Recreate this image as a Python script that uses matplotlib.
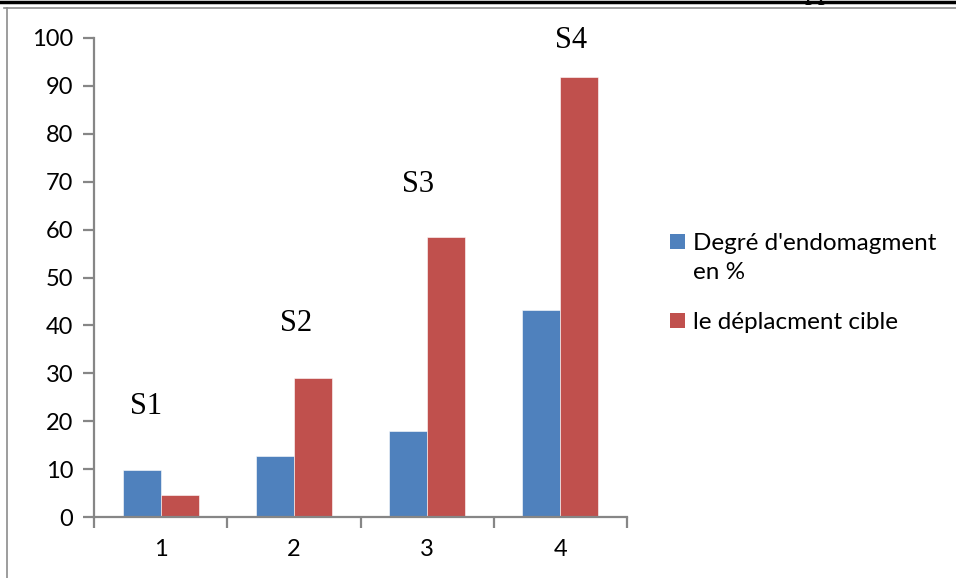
import matplotlib
matplotlib.use("Agg")
import matplotlib.pyplot as plt
from matplotlib.lines import Line2D
from matplotlib.patches import Rectangle
import numpy as np

categories = ["1", "2", "3", "4"]
degre_endommagement = [9.8, 12.7, 18.0, 43.2]
deplacement_cible = [4.6, 29.0, 58.4, 91.8]
series_names = ["Degré d'endomagment\nen %", "le déplacment cible"]
stage_labels = ["S1", "S2", "S3", "S4"]
stage_label_y = [23.0, 40.5, 69.5, 99.5]
stage_label_dx = [-0.11, 0.02, -0.07, 0.08]
y_ticks = list(range(0, 101, 10))

BLUE = "#4f81bd"
RED = "#c0504d"
AXIS_GRAY = "#868686"
W, H = 956, 578

fig = plt.figure(figsize=(W / 100, H / 100), dpi=100)
ax = fig.add_axes([94 / W, 61 / H, 533 / W, 479 / H])

x = np.arange(len(categories))
w = 1 / 3.5
ax.bar(x - w / 2, degre_endommagement, width=w, color=BLUE, edgecolor="white",
       linewidth=0.4, label=series_names[0])
ax.bar(x + w / 2, deplacement_cible, width=w, color=RED, edgecolor="white",
       linewidth=0.4, label=series_names[1])

ax.set_xlim(-0.5, len(categories) - 0.5)
ax.set_ylim(0, 100)
ax.set_yticks(y_ticks)
ax.set_yticklabels([str(v) for v in y_ticks])
ax.set_xticks(x)
ax.set_xticklabels(categories)
ax.set_xticks(np.arange(-0.5, len(categories)), minor=True)

for side in ("top", "right"):
    ax.spines[side].set_visible(False)
for side in ("left", "bottom"):
    ax.spines[side].set_color(AXIS_GRAY)
    ax.spines[side].set_linewidth(1.6)

ax.tick_params(axis="y", direction="out", length=8, width=1.6, color=AXIS_GRAY,
               labelsize=17, pad=7)
ax.tick_params(axis="x", which="major", length=0, labelsize=17, pad=16)
ax.tick_params(axis="x", which="minor", direction="out", length=8, width=1.6,
               color=AXIS_GRAY)
for lab in ax.get_xticklabels() + ax.get_yticklabels():
    lab.set_fontfamily("Lato")
    lab.set_color("black")

for i, (lab, yy, dx) in enumerate(zip(stage_labels, stage_label_y, stage_label_dx)):
    ax.text(i + dx, yy, lab, ha="center", va="center", fontsize=22,
            family="Liberation Serif", color="black", clip_on=False)

# legend: swatch aligned with the first line of each entry
legend_colors = [BLUE, RED]
legend_top_baseline = [250, 329]   # pixel rows from the top
line_step = 29
for name, col, base in zip(series_names, legend_colors, legend_top_baseline):
    fig.add_artist(Rectangle((670 / W, 1 - (base - 1) / H), 15 / W, 15 / H,
                             facecolor=col, edgecolor="none",
                             transform=fig.transFigure))
    for k, line in enumerate(name.split("\n")):
        fig.text(693 / W, 1 - (base + k * line_step) / H, line, ha="left",
                 va="baseline", fontsize=17.5, family="Lato", color="black")

# page frame around the chart
fig.add_artist(Line2D([0, 1], [1 - 1.5 / H, 1 - 1.5 / H], color="black",
                      linewidth=2.5, transform=fig.transFigure))
fig.add_artist(Line2D([4 / W, 1], [1 - 8 / H, 1 - 8 / H], color="#8c8c8c",
                      linewidth=1.2, transform=fig.transFigure))
fig.add_artist(Line2D([7 / W, 7 / W], [0, 1 - 8 / H], color="#8c8c8c",
                      linewidth=1.2, transform=fig.transFigure))
fig.text(818 / W, 1 + 1 / H, "pp", ha="center", va="baseline", fontsize=20,
         family="Liberation Serif", color="black")

fig.savefig("out.png", dpi=100)
